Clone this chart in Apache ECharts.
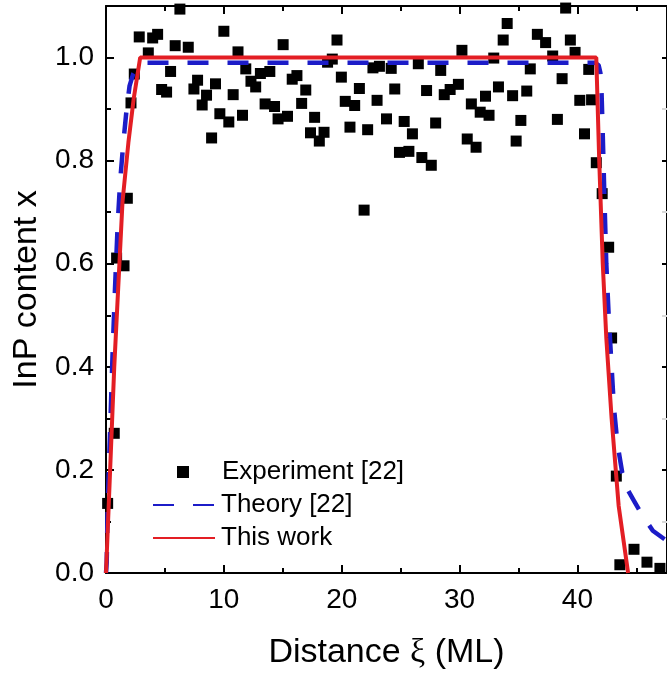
<!DOCTYPE html>
<html><head><meta charset="utf-8">
<script src="https://cdn.jsdelivr.net/npm/echarts@6/dist/echarts.min.js"></script>
<style>html,body{margin:0;padding:0;background:#fff}#c{width:667px;height:675px}</style>
</head><body><div id="c"></div>
<script>
// ---- data ----
const experimentX = [0.14,0.70,0.90,1.53,1.81,2.12,2.40,2.82,3.59,3.96,4.38,4.72,5.14,5.48,5.87,6.27,6.98,7.46,7.77,8.16,8.53,8.96,9.29,9.66,10.0,10.42,10.79,11.2,11.58,11.86,12.3,12.7,13.1,13.5,13.9,14.3,14.6,15.03,15.4,15.8,16.2,16.6,16.95,17.35,17.7,18.1,18.5,18.8,19.2,19.6,19.97,20.3,20.7,21.1,21.5,21.9,22.2,22.65,23.0,23.2,23.8,24.2,24.5,24.9,25.3,25.7,26.0,26.5,26.8,27.2,27.6,27.97,28.4,28.7,29.2,29.9,30.2,30.65,31.0,31.4,31.75,32.2,32.5,32.9,33.3,33.7,34.04,34.5,34.8,35.2,35.7,36.0,36.6,37.3,37.9,38.3,38.7,39.0,39.4,39.8,40.2,40.6,40.96,41.2,41.6,42.1,42.65,42.9,43.3,43.6,44.8,45.9,47.0];
const experimentY = [0.135,0.271,0.611,0.596,0.727,0.912,0.968,1.040,1.009,1.038,1.045,0.938,0.933,0.973,1.023,1.094,1.020,0.939,0.956,0.908,0.927,0.844,0.949,0.891,1.051,0.875,0.928,1.011,0.888,0.978,0.954,0.943,0.969,0.910,0.973,0.905,0.881,1.025,0.886,0.958,0.965,0.911,0.937,0.854,0.884,0.838,0.855,0.991,0.997,1.034,0.962,0.915,0.865,0.907,0.940,0.704,0.860,0.980,0.917,0.983,0.881,0.979,0.939,0.816,0.876,0.818,0.852,0.988,0.806,0.936,0.791,0.873,0.975,0.928,0.938,0.948,1.014,0.842,0.910,0.826,0.894,0.925,0.888,0.999,0.943,1.034,1.066,0.926,0.838,0.878,0.935,0.978,1.045,1.029,1.003,0.880,0.959,1.096,1.034,1.010,0.917,0.852,0.977,0.918,0.796,0.736,0.632,0.456,0.188,0.016,0.046,0.021,0.009];

const theoryX = [0,0.06,0.14,0.34,0.55,0.76,1.0,1.2,1.47,1.75,2.0,2.3,2.7,3.2,41.5,41.8,41.95,42.05,42.15,42.3,42.45,42.65,42.85,43.1,43.4,43.8,44.3,44.8,45.5,46.4,47.6];
const theoryY = [0,0.02,0.13,0.27,0.42,0.55,0.68,0.76,0.835,0.9,0.945,0.968,0.983,0.99,0.99,0.985,0.97,0.93,0.85,0.72,0.6,0.5,0.42,0.32,0.25,0.195,0.16,0.14,0.112,0.082,0.062];

const thisWorkX = [0,0.7,1.4,1.9,2.35,2.9,41.6,41.85,42.15,42.45,42.9,43.5,44.3];
const thisWorkY = [0,0.4,0.72,0.835,0.92,1.0,1.0,0.8,0.6,0.456,0.3,0.13,0];

const xMajorTicks = [0,10,20,30,40];
const xMinorTicks = [5,15,25,35,45];
const yMajorTicks = [0,0.2,0.4,0.6,0.8,1.0];
const yMinorTicks = [0.1,0.3,0.5,0.7,0.9];
const xMin = 0, xMax = 47.6, yMin = 0, yMax = 1.1;

const seriesNames = ['Experiment [22]','Theory [22]','This work'];

// ---- chart ----
const FONT = 'Liberation Sans, Arial, sans-serif';
const zip = (a,b) => a.map((v,i)=>[v,b[i]]);
const chart = echarts.init(document.getElementById('c'), null, {renderer:'canvas'});

function xAx(pos, ticks, len, showLine, showLabel, extra) {
  return Object.assign({
    type:'value', position:pos, min:xMin, max:xMax, gridIndex:0,
    axisLine:{show:showLine, onZero:false, lineStyle:{color:'#000', width:2}},
    axisTick:{show:true, inside:true, length:len, customValues:ticks, lineStyle:{color:'#000', width:2}},
    axisLabel:{show:showLabel, customValues:ticks, color:'#000', fontSize:28, fontFamily:FONT, margin:13},
    splitLine:{show:false}, minorTick:{show:false}
  }, extra||{});
}
function yAx(pos, ticks, len, showLine, showLabel, color, extra) {
  return Object.assign({
    type:'value', position:pos, min:yMin, max:yMax, gridIndex:0,
    axisLine:{show:showLine, onZero:false, lineStyle:{color:'#000', width:2}},
    axisTick:{show:true, inside:true, length:len, customValues:ticks, lineStyle:{color:color, width:2}},
    axisLabel:{show:showLabel, customValues:ticks, color:'#000', fontSize:28, fontFamily:FONT, margin:12,
      formatter:v=>Number(v).toFixed(1)},
    splitLine:{show:false}, minorTick:{show:false}
  }, extra||{});
}

const legendText = {color:'#000', fontSize:26, fontFamily:FONT, lineHeight:28};

chart.setOption({
  animation:false,
  backgroundColor:'#fff',
  grid:{left:106, right:-1, top:6, bottom:102, containLabel:false},
  legend:[
    {data:[{name:seriesNames[0], icon:'rect'}], orient:'vertical', left:177, top:458, padding:0,
     itemWidth:12, itemHeight:12, selectedMode:false,
     textStyle:Object.assign({padding:[0,0,0,28]}, legendText)},
    {data:[seriesNames[1]], orient:'vertical', left:152, top:491, padding:0,
     itemWidth:62, itemHeight:12, selectedMode:false, itemStyle:{opacity:0},
     textStyle:Object.assign({padding:[0,0,0,1]}, legendText)},
    {data:[seriesNames[2]], orient:'vertical', left:152, top:524, padding:0,
     itemWidth:62, itemHeight:12, selectedMode:false, itemStyle:{opacity:0},
     textStyle:Object.assign({padding:[0,0,0,1]}, legendText)}
  ],
  xAxis:[
    xAx('bottom', xMajorTicks, 8, true, true, {
      name:'Distance {g|ξ} (ML)', nameLocation:'middle', nameGap:63,
      nameTextStyle:{color:'#000', fontSize:34, fontFamily:FONT,
        rich:{g:{fontFamily:'Liberation Serif, serif', fontSize:34, color:'#000'}}}
    }),
    xAx('bottom', xMinorTicks, 5, false, false),
    xAx('top', xMajorTicks, 8, true, false),
    xAx('top', xMinorTicks, 5, false, false)
  ],
  yAxis:[
    yAx('left', yMajorTicks, 8, true, true, '#000', {
      name:'InP content x', nameLocation:'middle', nameGap:62,
      nameTextStyle:{color:'#000', fontSize:34, fontFamily:FONT}
    }),
    yAx('left', yMinorTicks, 5, false, false, '#000'),
    yAx('right', yMajorTicks.filter(v=>v>0), 5, true, false, '#000'),
    yAx('right', yMinorTicks, 5, false, false, '#d8d8d8')
  ],
  series:[
    {name:seriesNames[0], type:'scatter', xAxisIndex:0, yAxisIndex:0,
     symbol:'rect', symbolSize:11, itemStyle:{color:'#000', opacity:1},
     data:zip(experimentX, experimentY), z:2},
    {name:seriesNames[1], type:'line', xAxisIndex:0, yAxisIndex:0,
     symbol:'none', showSymbol:false, smooth:false,
     lineStyle:{color:'#1c1cc8', width:4.5, type:[21,19]}, itemStyle:{color:'#1c1cc8'},
     data:zip(theoryX, theoryY), z:3},
    {name:seriesNames[2], type:'line', xAxisIndex:0, yAxisIndex:0,
     symbol:'none', showSymbol:false, smooth:false,
     lineStyle:{color:'#e31e24', width:4}, itemStyle:{color:'#e31e24'},
     data:zip(thisWorkX, thisWorkY), z:4}
  ]
});
</script></body></html>
